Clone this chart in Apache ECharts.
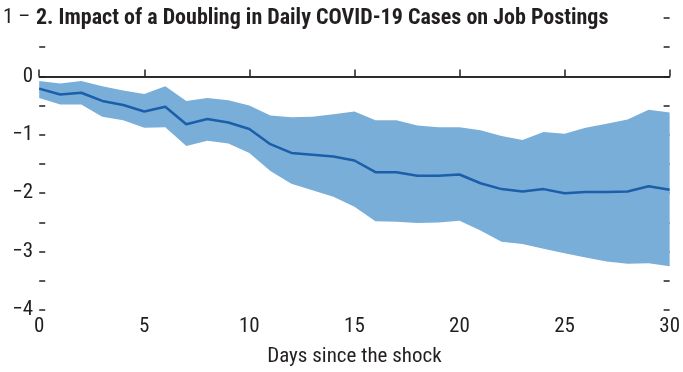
<!DOCTYPE html>
<html>
<head>
<meta charset="utf-8">
<script src="https://cdn.jsdelivr.net/npm/echarts@6/dist/echarts.min.js"></script>
<style>
html,body{margin:0;padding:0;background:#fff;}
#chart{width:683px;height:372px;}
</style>
</head>
<body>
<div id="chart"></div>
<script>
var days = [0,1,2,3,4,5,6,7,8,9,10,11,12,13,14,15,16,17,18,19,20,21,22,23,24,25,26,27,28,29,30];
var meanVals = [-0.21,-0.31,-0.28,-0.42,-0.49,-0.6,-0.52,-0.82,-0.73,-0.79,-0.9,-1.16,-1.31,-1.34,-1.37,-1.44,-1.64,-1.64,-1.7,-1.7,-1.68,-1.83,-1.93,-1.97,-1.93,-2.0,-1.98,-1.98,-1.97,-1.88,-1.94];
var upperVals = [-0.08,-0.12,-0.08,-0.17,-0.24,-0.3,-0.17,-0.42,-0.37,-0.41,-0.5,-0.67,-0.7,-0.69,-0.65,-0.6,-0.75,-0.75,-0.84,-0.87,-0.87,-0.92,-1.02,-1.09,-0.95,-0.98,-0.88,-0.81,-0.74,-0.57,-0.62];
var lowerVals = [-0.37,-0.48,-0.48,-0.69,-0.75,-0.88,-0.87,-1.19,-1.1,-1.15,-1.31,-1.62,-1.84,-1.95,-2.06,-2.23,-2.48,-2.49,-2.51,-2.5,-2.47,-2.64,-2.83,-2.87,-2.95,-3.03,-3.1,-3.17,-3.21,-3.2,-3.25];
var yTicks = [1,0,-1,-2,-3,-4];
var xTicks = [0,5,10,15,20,25,30];
var titleText = '2. Impact of a Doubling in Daily COVID-19 Cases on Job Postings';
var xName = 'Days since the shock';

var FONT = '"Liberation Sans Narrow","Arial Narrow","Roboto Condensed","Liberation Sans",sans-serif';
var chart = echarts.init(document.getElementById('chart'), null, {renderer:'canvas'});

var bandWidth = upperVals.map(function(u,i){ return u - lowerVals[i]; });
function showX(idx){ return xTicks.indexOf(days[idx]) >= 0; }

var option = {
  animation:false,
  backgroundColor:'#fff',
  title:{
    text:titleText, left:33, top:5,
    backgroundColor:'#fff', padding:[2,3,2,3],
    textStyle:{fontFamily:FONT, fontWeight:'bold', fontSize:22, color:'#231f20'}
  },
  grid:{left:36, right:11, top:18, bottom:56, containLabel:false},
  xAxis:{
    type:'category', data:days.map(String), boundaryGap:false,
    name:xName, nameLocation:'middle', nameGap:36,
    nameTextStyle:{fontFamily:FONT, fontSize:21, color:'#231f20'},
    axisLine:{show:true, lineStyle:{color:'#231f20', width:1.5}},
    axisTick:{show:true, inside:true, length:7, interval:function(i){return showX(i);}, lineStyle:{color:'#231f20', width:1.5}},
    axisLabel:{fontFamily:FONT, fontSize:21, color:'#231f20', margin:6, interval:function(i){return showX(i);}},
    splitLine:{show:false}
  },
  yAxis:[{
    type:'value', min:-4, max:1, interval:1, position:'left',
    axisLine:{show:false},
    axisTick:{show:true, inside:true, length:6, lineStyle:{color:'#231f20', width:1.5}},
    minorTick:{show:true, splitNumber:2, length:6, lineStyle:{color:'#231f20', width:1.5}},
    axisLabel:{fontFamily:FONT, fontSize:21, color:'#231f20', margin:6,
      formatter:function(v){
        if (yTicks.indexOf(v) < 0) return '';
        if (v === 1) return '{t|1 \u2013}';
        return String(v).replace('-', '\u2212');
      },
      rich:{t:{fontFamily:FONT, fontSize:21, color:'#231f20', padding:[0,3,0,0]}}
    },
    splitLine:{show:false}
  },{
    type:'value', min:-4, max:1, interval:1, position:'right',
    axisLine:{show:false},
    axisTick:{show:true, inside:true, length:6, lineStyle:{color:'#231f20', width:1.5}},
    minorTick:{show:true, splitNumber:2, length:6, lineStyle:{color:'#231f20', width:1.5}},
    axisLabel:{show:false},
    splitLine:{show:false}
  }],
  series:[
    {type:'line', data:lowerVals, stack:'band', stackStrategy:'all', symbol:'none', lineStyle:{opacity:0}, silent:true, z:1},
    {type:'line', data:bandWidth, stack:'band', stackStrategy:'all', symbol:'none', lineStyle:{opacity:0},
     areaStyle:{color:'#79aed9', opacity:1}, silent:true, z:1},
    {type:'line', data:meanVals, symbol:'none', z:3,
     lineStyle:{color:'#1b5ea9', width:2.5},
     markLine:{silent:true, symbol:'none', label:{show:false},
       lineStyle:{color:'#231f20', width:1.5, type:'solid'},
       data:[{yAxis:0}]}}
  ]
};
chart.setOption(option);
</script>
</body>
</html>
